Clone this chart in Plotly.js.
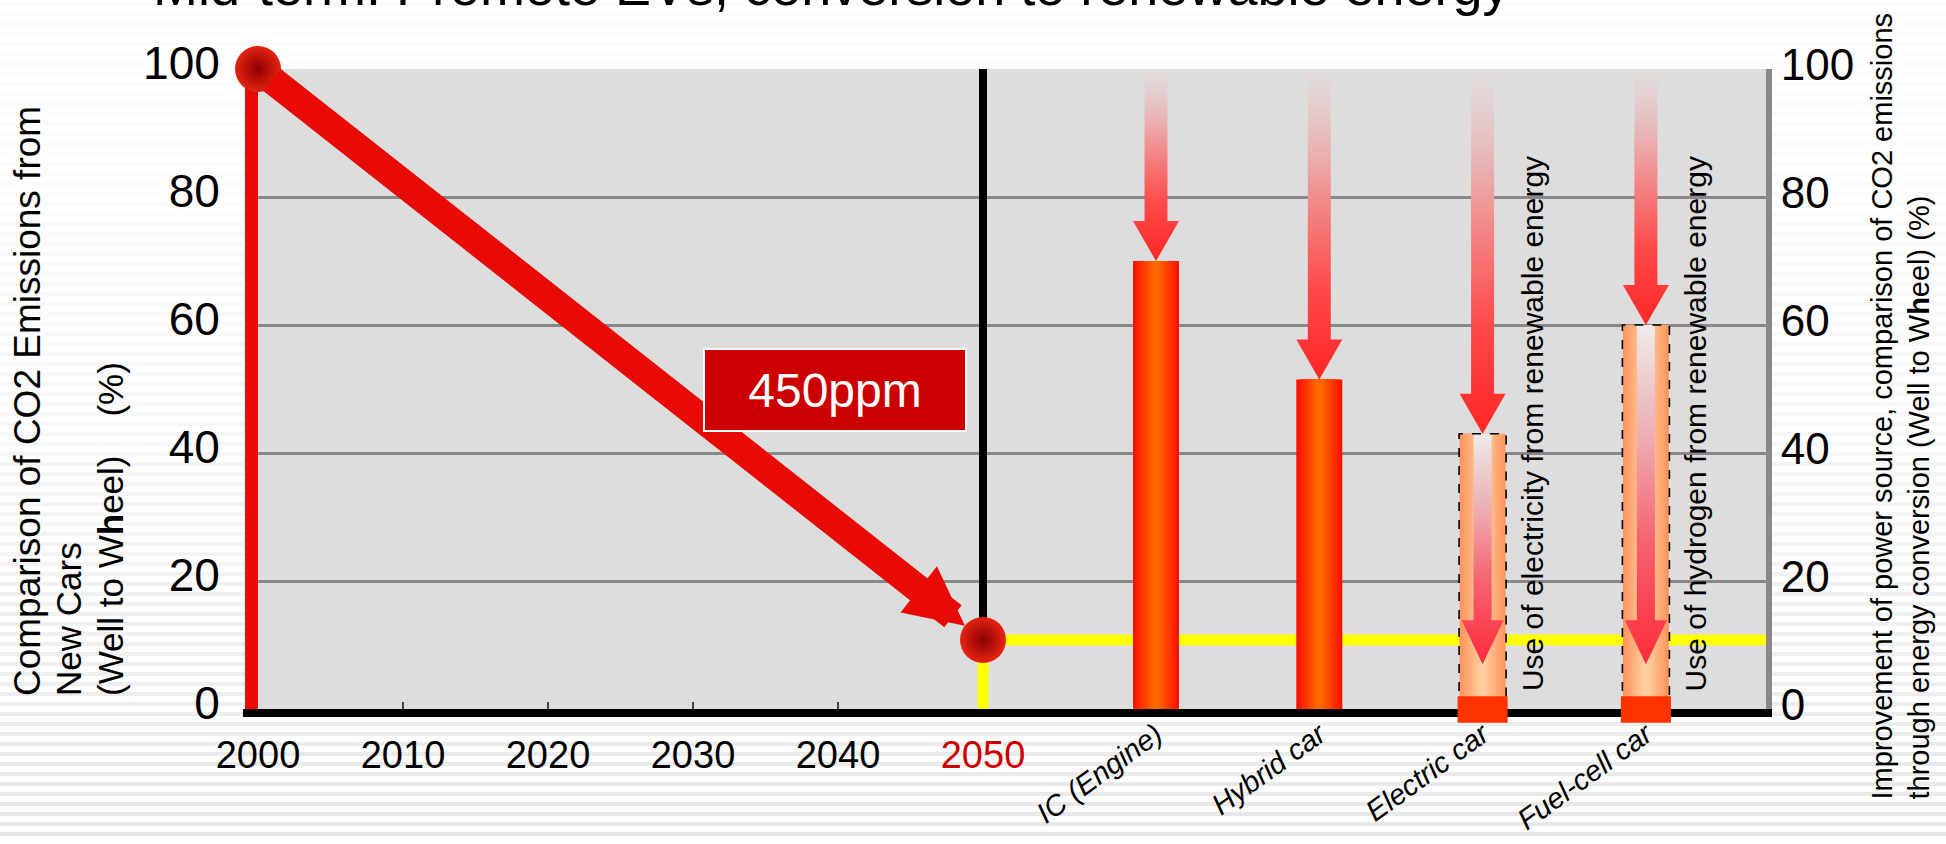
<!DOCTYPE html>
<html><head><meta charset="utf-8">
<script src="https://cdn.plot.ly/plotly-3.0.1.min.js"></script>
<style>html,body{margin:0;padding:0;background:#fff;}#chart{width:1946px;height:844px;}</style>
</head><body><div id="chart"></div>
<script>
// ---------------- data ----------------
const years = [2000, 2050];
const emissions = [100, 10.8];
const targetLevel = 10.8;
const yearTicks = [2000, 2010, 2020, 2030, 2040, 2050];
const yearLabels = ['2000', '2010', '2020', '2030', '2040', '<span style="color:#CC0000">2050</span>'];
const cars = ['IC (Engine)', 'Hybrid car', 'Electric car', 'Fuel-cell car'];
const carValues = [70, 51.5, 43, 60];
const renewableValues = [null, null, 7, 7];
const renewableLabels = [null, null, 'Use of electricity from renewable energy', 'Use of hydrogen from renewable energy'];
const leftTicks = [0, 20, 40, 60, 80, 100];
const rightTicks = [0, 20, 40, 60, 80, 100];
const ppmLabel = '450ppm';
const titleText = 'Mid-term: Promote EVs, conversion to renewable energy';
const leftTitleLines = ['Comparison of CO2 Emissions from', 'New Cars', '(Well to W<b>h</b>eel)\u00a0\u00a0\u00a0\u00a0(%)'];
const rightTitle = 'Improvement of power source, comparison of CO2 emissions<br>through energy conversion (Well to W<b>h</b>eel) (%)';

// ---------------- layout geometry ----------------
const W = 1946, H = 844;
const M = {l: 258, r: 180, t: 69, b: 135};
const plotW = W - M.l - M.r, plotH = H - M.t - M.b;
const pxPerYear = 14.5;
const xRange = [2000, 2000 + plotW / pxPerYear];
const catStep = 163.3, firstCatPx = 1156 - M.l;
const x2Range = [-firstCatPx / catStep, (plotW - firstCatPx) / catStep];
const pxY = plotH / 100;
const FONT = 'Arial, "Liberation Sans", sans-serif';
const px2cat = v => v / catStep;
const pxToPaperX = p => (p - M.l) / plotW;
const pxToPaperY = p => (H - M.b - p) / plotH;

const barW = px2cat(46);
const idx = cars.map((c, i) => i);

const traces = [];
// 2050 target level (yellow)
traces.push({x: [2050, 2050, xRange[1]], y: [0, targetLevel, targetLevel], mode: 'lines',
  line: {color: '#FFFF00', width: 11}, hoverinfo: 'skip', xaxis: 'x', yaxis: 'y'});
// 2050 vertical
traces.push({x: [2050, 2050], y: [100, targetLevel], mode: 'lines',
  line: {color: '#000', width: 8}, hoverinfo: 'skip', xaxis: 'x', yaxis: 'y'});
// emission points
traces.push({x: years, y: emissions, mode: 'markers', cliponaxis: false,
  marker: {size: 46, color: '#E42412', gradient: {type: 'radial', color: '#8E0000'}},
  xaxis: 'x', yaxis: 'y', name: 'New car CO2'});

// bars with horizontal gradient (layered)
const isRen = idx.map(i => renewableValues[i] !== null);
const edgeCol = idx.map(i => isRen[i] ? [255, 150, 96] : [255, 18, 0]);
const midCol = idx.map(i => isRen[i] ? [255, 206, 158] : [255, 104, 0]);
const nLayers = 8;
for (let k = 0; k < nLayers; k++) {
  const t = k / (nLayers - 1);
  const cols = idx.map(i => {
    const c = edgeCol[i].map((e, j) => Math.round(e + (midCol[i][j] - e) * t));
    return 'rgb(' + c.join(',') + ')';
  });
  traces.push({type: 'bar', x: idx, y: carValues, width: barW * (1 - 0.85 * t),
    marker: {color: cols, line: {width: 0}}, xaxis: 'x2', yaxis: 'y2', hoverinfo: k === 0 ? 'y' : 'skip',
    name: 'cars'});
}
const renIdx = idx.filter(i => isRen[i]);

function arrowPoly(xc, yTop, yTip, sh, hh, hl) {
  const yb = yTip + hl;
  return {x: [xc - sh, xc + sh, xc + sh, xc + hh, xc, xc - hh, xc - sh, xc - sh],
          y: [yTop, yTop, yb, yb, yTip, yb, yb, yTop]};
}
// downward arrows from 100 to each bar
idx.forEach(i => {
  const p = arrowPoly(i, 100, carValues[i], px2cat(11.5), px2cat(23), 40 / pxY);
  traces.push({x: p.x, y: p.y, mode: 'lines', fill: 'toself', line: {width: 0, color: 'rgba(0,0,0,0)'},
    fillgradient: {type: 'vertical', start: carValues[i], stop: 100,
      colorscale: [[0, '#FF2626'], [0.3, '#FF4A4A'], [0.65, '#EE9C9C'], [1, 'rgba(228,220,220,0.5)']]},
    xaxis: 'x2', yaxis: 'y2', hoverinfo: 'skip'});
});
// renewable arrows inside boxes
renIdx.forEach(i => {
  const p = arrowPoly(i, carValues[i], renewableValues[i], px2cat(9), px2cat(21), 44 / pxY);
  traces.push({x: p.x, y: p.y, mode: 'lines', fill: 'toself', line: {width: 0, color: 'rgba(0,0,0,0)'},
    fillgradient: {type: 'vertical', start: renewableValues[i], stop: carValues[i],
      colorscale: [[0, '#FF2A3A'], [0.35, '#F6606E'], [0.7, '#ECB4B8'], [1, '#EEEAEA']]},
    xaxis: 'x2', yaxis: 'y2', hoverinfo: 'skip'});
  const hw = px2cat(23.5);
  traces.push({x: [i - hw, i - hw, i + hw, i + hw], y: [0, carValues[i], carValues[i], 0], mode: 'lines',
    line: {color: '#000', width: 1.6, dash: 'dash'}, xaxis: 'x2', yaxis: 'y2', hoverinfo: 'skip'});
});

// ---------------- shapes ----------------
const shapes = [];
for (let yy = 4; yy < H; yy += 10) {
  const a = 0.012 + 0.085 * Math.pow(yy / H, 2);
  shapes.push({type: 'line', xref: 'paper', yref: 'paper', x0: pxToPaperX(0), x1: pxToPaperX(W),
    y0: pxToPaperY(yy), y1: pxToPaperY(yy), line: {color: 'rgba(0,0,0,' + a.toFixed(3) + ')', width: 4}, layer: 'below'});
}
shapes.push({type: 'rect', xref: 'paper', yref: 'paper', x0: 0, x1: 1, y0: 0, y1: 1,
  fillcolor: '#DDDDDD', line: {width: 0}, layer: 'below'});
// short extension of the base line to the left of the red axis
shapes.push({type: 'line', xref: 'paper', yref: 'paper', x0: pxToPaperX(243), x1: pxToPaperX(246),
  y0: pxToPaperY(713), y1: pxToPaperY(713), line: {color: '#000', width: 8}, layer: 'above'});
// zero-level blocks under renewable-energy cars (straddling the axis)
renIdx.forEach(i => {
  const hb = px2cat(25);
  shapes.push({type: 'rect', xref: 'x2', yref: 'paper', x0: i - hb, x1: i + hb, y0: -2.15 / 100, y1: 2.0 / 100,
    fillcolor: '#FF3300', line: {width: 0}, layer: 'above'});
});

// ---------------- annotations ----------------
const annotations = [
  {xref: 'x', yref: 'y', axref: 'x', ayref: 'y', x: years[1], y: emissions[1], ax: years[0], ay: emissions[0],
   text: '', showarrow: true, arrowhead: 2, arrowsize: 0.42, arrowwidth: 28, arrowcolor: '#E80A05',
   standoff: 23, startstandoff: 16},
  {xref: 'x', yref: 'y', x: 2039.76, y: 49.9, text: ppmLabel, showarrow: false,
   font: {family: FONT, size: 48, color: '#fff'}, bgcolor: '#CC0000', bordercolor: '#fff', borderwidth: 2,
   width: 258, height: 78},
  {xref: 'paper', yref: 'paper', x: pxToPaperX(1900), y: pxToPaperY(802), xanchor: 'center', yanchor: 'bottom',
   text: rightTitle, textangle: -90, align: 'left', showarrow: false, font: {family: FONT, size: 29, color: '#000'}},
  {xref: 'paper', yref: 'paper', x: pxToPaperX(151), y: pxToPaperY(18), xanchor: 'left', yanchor: 'bottom',
   text: titleText, showarrow: false, font: {family: FONT, size: 54, color: '#000'}}
];
const leftLineX = [27, 68, 110];
const leftLineSize = [37, 35, 35];
leftTitleLines.forEach((t, k) => {
  annotations.push({xref: 'paper', yref: 'paper', x: pxToPaperX(leftLineX[k]), y: pxToPaperY(698),
    xanchor: 'center', yanchor: 'bottom', text: t, textangle: -90, showarrow: false,
    font: {family: FONT, size: leftLineSize[k], color: '#000'}});
});
renIdx.forEach(i => {
  annotations.push({xref: 'x2', yref: 'y2', x: i, y: 0, xshift: 50, yshift: 16, xanchor: 'center', yanchor: 'bottom',
    text: renewableLabels[i], textangle: -90, showarrow: false, font: {family: FONT, size: 30, color: '#000'}});
});

const layout = {
  width: W, height: H, margin: M, showlegend: false, barmode: 'overlay',
  paper_bgcolor: '#FFFFFF', plot_bgcolor: '#DDDDDD', font: {family: FONT, color: '#000'},
  xaxis: {range: xRange, tickvals: yearTicks, ticktext: yearLabels, ticks: 'inside', ticklen: 7, tickwidth: 1.5,
    tickcolor: '#444', showline: true, linecolor: '#000', linewidth: 8, showgrid: false, zeroline: false,
    tickfont: {family: FONT, size: 38, color: '#000'}, layer: 'below traces', anchor: 'y',
    ticklabelstandoff: 5},
  xaxis2: {overlaying: 'x', anchor: 'y2', side: 'bottom', range: x2Range, tickvals: idx, ticktext: cars,
    tickangle: -36, ticks: '', showgrid: false, zeroline: false, showline: false,
    tickfont: {family: FONT, size: 29, color: '#000', style: 'italic'}, ticklabelstandoff: 2},
  xaxis3: {overlaying: 'x', anchor: 'y', side: 'top', range: xRange, showticklabels: false, ticks: '',
    showgrid: false, zeroline: false, showline: true, linecolor: '#E80A05', linewidth: 12, layer: 'below traces'},
  yaxis: {range: [0, 100], tickvals: leftTicks, ticks: '', showgrid: true, gridcolor: '#888888', gridwidth: 3,
    zeroline: false, showline: true, linecolor: '#E80A05', linewidth: 13, layer: 'below traces',
    tickfont: {family: FONT, size: 46, color: '#000'}, ticklabelstandoff: 16, ticklabelshift: -6},
  yaxis2: {overlaying: 'y', anchor: 'x2', side: 'right', range: [0, 100], tickvals: rightTicks, ticks: '',
    showgrid: false, zeroline: false, showline: true, linecolor: '#888888', linewidth: 6, layer: 'below traces',
    tickfont: {family: FONT, size: 44, color: '#000'}, ticklabelstandoff: 0, ticklabelshift: -4},
  shapes: shapes, annotations: annotations
};

Plotly.newPlot('chart', traces, layout, {displayModeBar: false, staticPlot: true});
</script></body></html>
